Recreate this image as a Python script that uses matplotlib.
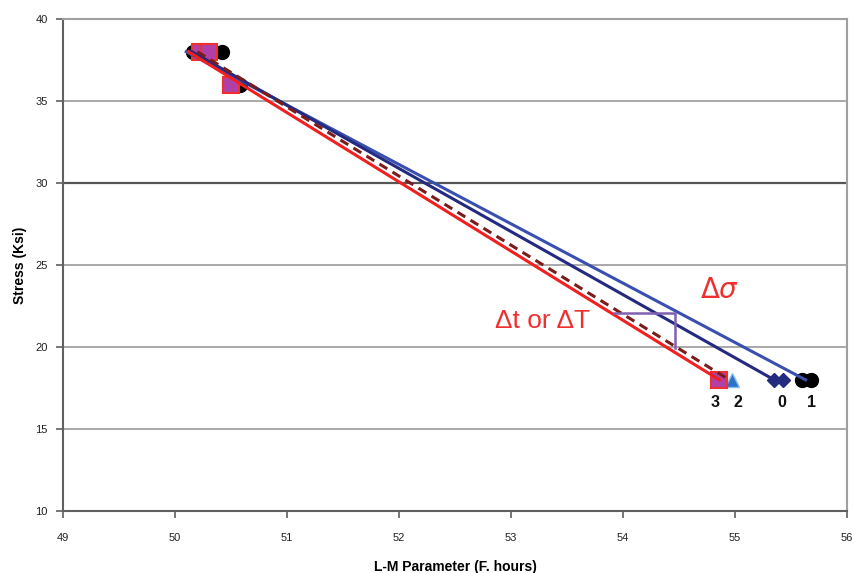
import numpy as np
import matplotlib
matplotlib.use('Agg')
from matplotlib import pyplot as plt

plt.rcParams['font.family'] = ['Liberation Sans', 'DejaVu Sans']

# trend lines (L-M parameter at stress 38 and 18 ksi)
line_stress = [38, 18]
line1_lm = [50.10, 55.63]   # blue
line0_lm = [50.15, 55.35]   # navy
line2_lm = [50.20, 54.95]   # dashed dark red
line3_lm = [50.12, 54.86]   # red

# data points
pts1_lm = [50.16, 50.42, 50.58, 55.60, 55.68]
pts1_s = [38, 38, 36, 18, 18]
pts0_lm = [50.18, 55.35, 55.43]
pts0_s = [38, 18, 18]
pts2_lm = [50.22, 54.97]
pts2_s = [38, 18]
pts3_lm = [50.22, 50.30, 50.50, 54.86]
pts3_s = [38, 38, 36, 18]

labels = ['3', '2', '0', '1']
labels_x = [54.82, 55.03, 55.42, 55.68]

fig = plt.figure(figsize=(8.54, 5.73), dpi=100)
ax = fig.add_axes([0.0738, 0.108, 0.918, 0.859])

ax.set_xlim(49, 56)
ax.set_ylim(10, 40)
ax.set_xticks(np.arange(49, 57, 1))
ax.set_yticks(np.arange(10, 45, 5))

for yv in [15, 20, 25, 35]:
    ax.axhline(yv, color='#9a9a9a', lw=1.2, zorder=0)
ax.axhline(30, color='#555555', lw=1.6, zorder=0)

for s in ['top', 'right']:
    ax.spines[s].set_color('#a0a0a0')
    ax.spines[s].set_linewidth(1.5)
for s in ['left', 'bottom']:
    ax.spines[s].set_color('#606060')
    ax.spines[s].set_linewidth(1.5)

ax.tick_params(axis='both', direction='out', length=5, width=1.2, color='#606060',
               labelsize=8, labelcolor='#222222')
ax.tick_params(axis='x', pad=11)
ax.tick_params(axis='y', pad=6)

ax.plot(line1_lm, line_stress, color='#3a50b0', lw=2.2, zorder=3)
ax.plot(line0_lm, line_stress, color='#232a80', lw=2.2, zorder=3)
ax.plot(line2_lm, line_stress, color='#7a1c1c', lw=2.2, ls=(0, (3, 2)), zorder=3)
ax.plot(line3_lm, line_stress, color='#f02020', lw=2.2, zorder=3)

ax.plot(pts1_lm, pts1_s, 'o', ls='none', color='black', ms=10, zorder=2)
ax.plot(pts0_lm, pts0_s, 'D', ls='none', color='#232a80', ms=7, zorder=2)
ax.plot(pts2_lm, pts2_s, '^', ls='none', color='#3070c8', mec='#80c0f0', ms=10, zorder=2)
ax.plot(pts3_lm, pts3_s, 's', ls='none', color='#b040a8', mec='#f03030', mew=1.5, ms=11, zorder=2)

# delta bracket
ax.plot([53.92, 54.46, 54.46], [22.07, 22.07, 19.94], color='#8060b0', lw=1.8, zorder=4)

ax.text(54.86, 23.4, r'$\Delta\sigma$', color='#f03030', fontsize=20, ha='center', va='center')
ax.text(53.28, 21.6, '\u0394t or \u0394T', color='#f03030', fontsize=19, ha='center', va='center')

for lab, xv in zip(labels, labels_x):
    ax.text(xv, 16.6, lab, fontsize=11.5, fontweight='bold', ha='center', va='center',
            color='#111111')

ax.set_xlabel('L-M Parameter (F. hours)', fontsize=10, fontweight='bold', labelpad=12)
ax.set_ylabel('Stress (Ksi)', fontsize=10, fontweight='bold', labelpad=6)

fig.savefig('out.png', dpi=100)
